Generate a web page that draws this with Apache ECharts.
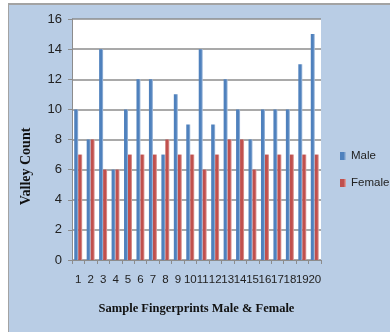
<!DOCTYPE html>
<html>
<head>
<meta charset="utf-8">
<script src="https://cdn.jsdelivr.net/npm/echarts@6/dist/echarts.min.js"></script>
<style>
  html, body { margin: 0; padding: 0; background: #ffffff; }
  #chart { width: 390px; height: 332px; }
</style>
</head>
<body>
<div id="chart"></div>
<script>
// Sample numbers along the category axis
const samples = ['1','2','3','4','5','6','7','8','9','10','11','12','13','14','15','16','17','18','19','20'];
// Valley counts per fingerprint sample
const maleCounts   = [10, 8, 14, 6, 10, 12, 12, 7, 11, 9, 14, 9, 12, 10, 8, 10, 10, 10, 13, 15];
const femaleCounts = [7, 8, 6, 6, 7, 7, 7, 8, 7, 7, 6, 7, 8, 8, 6, 7, 7, 7, 7, 7];
const seriesNames = ['Male', 'Female'];

const chart = echarts.init(document.getElementById('chart'), null, { renderer: 'canvas' });

const sansFont = "'Liberation Sans', Arial, sans-serif";
const serifFont = "'Liberation Serif', 'Times New Roman', serif";

function barFill(base, light) {
  return new echarts.graphic.LinearGradient(0, 0, 1, 0, [
    { offset: 0, color: base },
    { offset: 0.6, color: base },
    { offset: 1, color: light }
  ]);
}

const option = {
  backgroundColor: '#ffffff',
  animation: false,
  graphic: [
    { type: 'rect', left: 8, top: 3, z: -10,
      shape: { width: 382, height: 329 },
      style: { fill: '#b9cde5' } },
    { type: 'line', z: -9,
      shape: { x1: 8, y1: 4, x2: 390, y2: 4 },
      style: { stroke: '#a3a3a3', lineWidth: 2 } },
    { type: 'line', z: -9,
      shape: { x1: 8.5, y1: 3, x2: 8.5, y2: 332 },
      style: { stroke: '#a3a3a3', lineWidth: 1 } }
  ],
  grid: {
    left: 72, top: 19, right: 69, bottom: 72,
    show: true, backgroundColor: '#ffffff', borderWidth: 0
  },
  legend: {
    orient: 'vertical',
    left: 340, top: 150,
    padding: 0,
    itemWidth: 6, itemHeight: 8, itemGap: 15,
    icon: 'rect',
    data: seriesNames,
    textStyle: { fontFamily: sansFont, fontSize: 11.5, color: '#222' }
  },
  xAxis: {
    type: 'category',
    data: samples,
    name: 'Sample Fingerprints Male & Female',
    nameLocation: 'middle',
    nameGap: 42,
    nameTextStyle: { fontFamily: serifFont, fontWeight: 'bold', fontSize: 12.5, color: '#111' },
    axisLine: { lineStyle: { color: '#8c8c8c', width: 1 } },
    axisTick: { show: true, length: 4, lineStyle: { color: '#8c8c8c' } },
    axisLabel: { interval: 0, margin: 14, fontFamily: sansFont, fontSize: 11.5, color: '#222' }
  },
  yAxis: {
    type: 'value',
    min: 0, max: 16, interval: 2,
    name: 'Valley Count',
    nameLocation: 'middle',
    nameGap: 39,
    nameTextStyle: { fontFamily: serifFont, fontWeight: 'bold', fontSize: 14, color: '#111', padding: [0, 54, 0, 0] },
    axisLine: { show: true, lineStyle: { color: '#8c8c8c', width: 1 } },
    axisTick: { show: true, length: 4, lineStyle: { color: '#8c8c8c' } },
    axisLabel: { margin: 10, fontFamily: sansFont, fontSize: 13, color: '#222' },
    splitLine: { lineStyle: { color: '#8c8c8c', width: 1.5 } }
  },
  series: [
    {
      name: seriesNames[0], type: 'bar', data: maleCounts,
      barWidth: 4, barGap: '0%',
      itemStyle: { color: barFill('#4f81bd', '#a9c1df') }
    },
    {
      name: seriesNames[1], type: 'bar', data: femaleCounts,
      barWidth: 4, barGap: '0%',
      itemStyle: { color: barFill('#c0504d', '#e3a9a7') }
    }
  ]
};

chart.setOption(option);
</script>
</body>
</html>
